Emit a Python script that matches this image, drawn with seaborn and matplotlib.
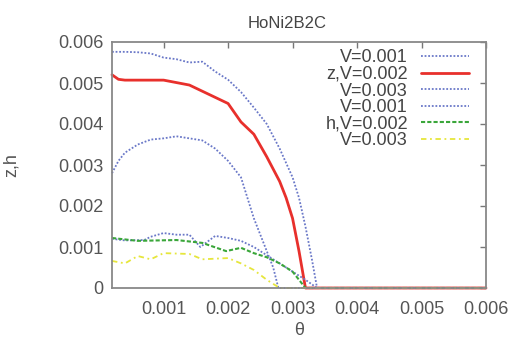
import numpy as np
import pandas as pd
import matplotlib
matplotlib.use('Agg')
import matplotlib.pyplot as plt
import seaborn as sns

# z curves
x_z1 = [0.0002, 0.0004, 0.0006, 0.0008, 0.001, 0.0012, 0.0014, 0.0016, 0.0018, 0.002,
        0.0022, 0.0024, 0.0026, 0.0028, 0.003, 0.0031, 0.0032, 0.0033, 0.00338, 0.0045, 0.006]
z_v1 = [0.00576, 0.00576, 0.00575, 0.00572, 0.00562, 0.00558, 0.00550, 0.00552, 0.00528, 0.00508,
        0.00478, 0.00440, 0.00400, 0.00340, 0.00270, 0.00220, 0.00150, 0.00070, 0.0, 0.0, 0.0]

x_z2 = [0.0002, 0.0003, 0.0004, 0.0007, 0.001, 0.0014, 0.0016, 0.0018, 0.002, 0.0022,
        0.0024, 0.0026, 0.0027, 0.0028, 0.0029, 0.003, 0.0031, 0.0032, 0.0045, 0.006]
z_v2 = [0.00520, 0.00509, 0.00507, 0.00507, 0.00507, 0.00495, 0.00480, 0.00465, 0.00450, 0.00405,
        0.00375, 0.00320, 0.00290, 0.00260, 0.00220, 0.00170, 0.00090, 0.0, 0.0, 0.0]

x_z3 = [0.0002, 0.0003, 0.0004, 0.0006, 0.0008, 0.001, 0.0012, 0.0014, 0.0016, 0.0018,
        0.002, 0.0022, 0.0024, 0.0026, 0.0027, 0.00278, 0.0045, 0.006]
z_v3 = [0.00280, 0.00310, 0.00330, 0.00350, 0.00362, 0.00365, 0.00370, 0.00365, 0.00360, 0.00340,
        0.00310, 0.00270, 0.00170, 0.00090, 0.00050, 0.0, 0.0, 0.0]

# h curves
x_h1 = [0.0002, 0.0004, 0.0007, 0.0008, 0.001, 0.0012, 0.0014, 0.00157, 0.0018, 0.002,
        0.0022, 0.0024, 0.0026, 0.0028, 0.003, 0.0032, 0.00338, 0.0045, 0.006]
h_v1 = [0.00120, 0.00116, 0.00117, 0.00125, 0.00134, 0.00130, 0.00130, 0.00100, 0.00127, 0.00122,
        0.00115, 0.00100, 0.00080, 0.00060, 0.00040, 0.00020, 0.0, 0.0, 0.0]

x_h2 = [0.0002, 0.0006, 0.0012, 0.0016, 0.00197, 0.0022, 0.0024, 0.0026, 0.0028, 0.003,
        0.0031, 0.0032, 0.0045, 0.006]
h_v2 = [0.00122, 0.00115, 0.00117, 0.00110, 0.00090, 0.00098, 0.00085, 0.00075, 0.00060, 0.00040,
        0.00020, 0.0, 0.0, 0.0]

x_h3 = [0.0002, 0.0004, 0.0006, 0.0008, 0.001, 0.0014, 0.0016, 0.002, 0.0022, 0.0024,
        0.0026, 0.0028, 0.0045, 0.006]
h_v3 = [0.00066, 0.00060, 0.00078, 0.00070, 0.00085, 0.00083, 0.00070, 0.00073, 0.00060, 0.00044,
        0.00020, 0.0, 0.0, 0.0]

labels = ['V=0.001', 'z,V=0.002', 'V=0.003', 'V=0.001', 'h,V=0.002', 'V=0.003']

sns.set_style('white')
plt.rcParams['font.family'] = ['Liberation Sans', 'DejaVu Sans']

fig = plt.figure(figsize=(5.12, 3.42), dpi=100)
ax = fig.add_axes([112/512, 1 - 288/342, 374/512, 246/342])

blue = '#6a78c8'
series = [
    (x_z1, z_v1, blue, (0, (1, 1)), 1.3),
    (x_z2, z_v2, '#e8302c', '-', 2.0),
    (x_z3, z_v3, blue, (0, (1, 1)), 1.3),
    (x_h1, h_v1, blue, (0, (1, 1)), 1.3),
    (x_h2, h_v2, '#3aa63a', (0, (2, 1)), 1.5),
    (x_h3, h_v3, '#e6e63c', (0, (3, 2, 1, 2)), 1.3),
]
for (xs, ys, c, ls, lw), lab in zip(series, labels):
    sns.lineplot(x=xs, y=ys, ax=ax, color=c, linestyle=ls, linewidth=lw,
                 label=lab, sort=False, clip_on=False)

ax.set_xlim(0.0002, 0.006)
ax.set_ylim(0, 0.006)
ax.set_xticks([0.001, 0.002, 0.003, 0.004, 0.005, 0.006])
ax.set_yticks([0, 0.001, 0.002, 0.003, 0.004, 0.005, 0.006])
ax.set_xticklabels(['0.001', '0.002', '0.003', '0.004', '0.005', '0.006'])
ax.set_yticklabels(['0', '0.001', '0.002', '0.003', '0.004', '0.005', '0.006'])
ax.tick_params(direction='in', length=4, width=1, colors='#777777', labelcolor='#555555',
               labelsize=13, top=True, right=True, pad=6)
ax.tick_params(axis='x', pad=9)
for s in ax.spines.values():
    s.set_color('#888888')
    s.set_linewidth(1.3)

ax.set_xlabel('θ', fontsize=13, color='#555555', labelpad=3)
ax.set_ylabel('z,h', fontsize=13, color='#555555', labelpad=28)
fig.text(287/512, 1 - 24/342, 'HoNi2B2C', ha='center', va='center', fontsize=12, color='#444444')

leg = ax.legend(loc='upper right', markerfirst=False, frameon=False, fontsize=13,
                handlelength=2.7, handletextpad=0.7, labelspacing=-0.02,
                borderaxespad=0.0, bbox_to_anchor=(0.975, 1.0))
for t in leg.get_texts():
    t.set_color('#444444')

fig.savefig('out.png', dpi=100)
